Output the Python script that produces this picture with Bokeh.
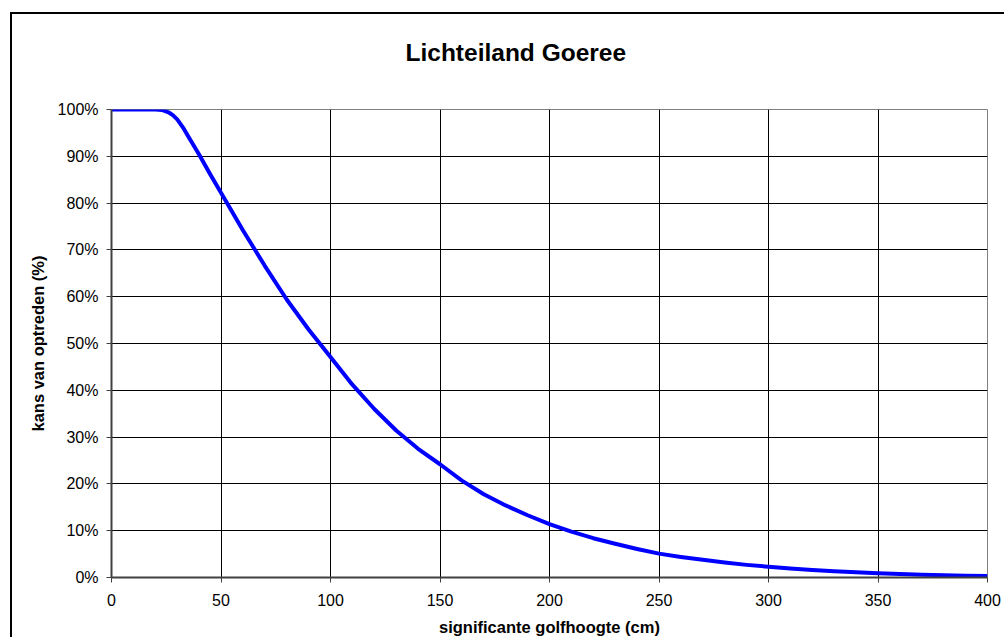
from bokeh.plotting import figure
from bokeh.models import Range1d, FixedTicker, PrintfTickFormatter, Title
from bokeh.embed import file_html
from bokeh.resources import INLINE

# significante golfhoogte (cm)
golfhoogte = [0, 10, 20, 23, 26, 28, 30, 33, 35, 40, 45, 50, 60, 70, 80, 90, 100, 110, 120,
              130, 140, 150, 160, 170, 180, 190, 200, 210, 220, 230, 240, 250, 260, 270,
              280, 290, 300, 310, 320, 330, 340, 350, 360, 370, 380, 390, 400]
# kans van optreden (%)
kans = [100, 100, 100, 99.9, 99.4, 98.8, 97.9, 95.9, 94.3, 90.4, 86.2, 82.2, 74.2, 66.6,
        59.4, 53.0, 47.1, 41.2, 36.0, 31.4, 27.5, 24.2, 20.7, 17.8, 15.4, 13.3, 11.4, 9.8,
        8.4, 7.2, 6.1, 5.1, 4.4, 3.8, 3.2, 2.7, 2.3, 1.9, 1.6, 1.35, 1.1, 0.9, 0.75, 0.6,
        0.5, 0.4, 0.3]

x_ticks = [0, 50, 100, 150, 200, 250, 300, 350, 400]
y_ticks = [0, 10, 20, 30, 40, 50, 60, 70, 80, 90, 100]
title_text = "Lichteiland Goeree"

FONT = "Liberation Sans"

p = figure(width=994, height=625, output_backend="svg", toolbar_location=None,
           x_range=Range1d(0, 400), y_range=Range1d(0, 100),
           min_border_left=99, min_border_right=19, min_border_top=95, min_border_bottom=62)
p.margin = (12, 0, 0, 10)
p.styles = {"border-left": "2px solid black", "border-top": "2px solid black"}

p.background_fill_color = "white"
p.border_fill_color = "white"
p.outline_line_color = "#808080"
p.outline_line_width = 1

# invisible spacer between the title and the plot area
spacer = Title(text=" ", align="left", standoff=21, text_font=FONT,
               text_font_size="10px", text_color="white")
p.add_layout(spacer, "above")
main_title = Title(text=title_text, align="left", offset=294, standoff=20,
                   text_font=FONT, text_font_size="24.5px", text_font_style="bold",
                   text_color="black")
p.add_layout(main_title, "above")

p.line(golfhoogte, kans, line_color="#0000FF", line_width=4, line_join="round")

for ax in (p.xaxis[0], p.yaxis[0]):
    ax.axis_line_color = "#404040"
    ax.axis_line_width = 2
    ax.major_tick_line_color = "#404040"
    ax.major_tick_in = 0
    ax.major_tick_out = 5
    ax.minor_tick_line_color = None
    ax.major_label_text_font = FONT
    ax.major_label_text_font_size = "16px"
    ax.major_label_text_color = "black"
    ax.major_label_standoff = 8
    ax.axis_label_text_font = FONT
    ax.axis_label_text_font_size = "16.5px"
    ax.axis_label_text_font_style = "bold"
    ax.axis_label_text_color = "black"
    ax.axis_label_standoff = 8

p.xaxis[0].major_label_standoff = 11
p.xaxis[0].axis_label_standoff = 9

p.xaxis[0].ticker = FixedTicker(ticks=x_ticks)
p.yaxis[0].ticker = FixedTicker(ticks=y_ticks)
p.yaxis[0].formatter = PrintfTickFormatter(format="%d%%")
p.xaxis[0].axis_label = "significante golfhoogte (cm)"
p.yaxis[0].axis_label = "kans van optreden (%)"

p.xgrid[0].ticker = FixedTicker(ticks=x_ticks)
p.ygrid[0].ticker = FixedTicker(ticks=y_ticks)
for g in (p.xgrid[0], p.ygrid[0]):
    g.grid_line_color = "black"
    g.grid_line_width = 1

open("out.html", "w").write(file_html(p, INLINE))
